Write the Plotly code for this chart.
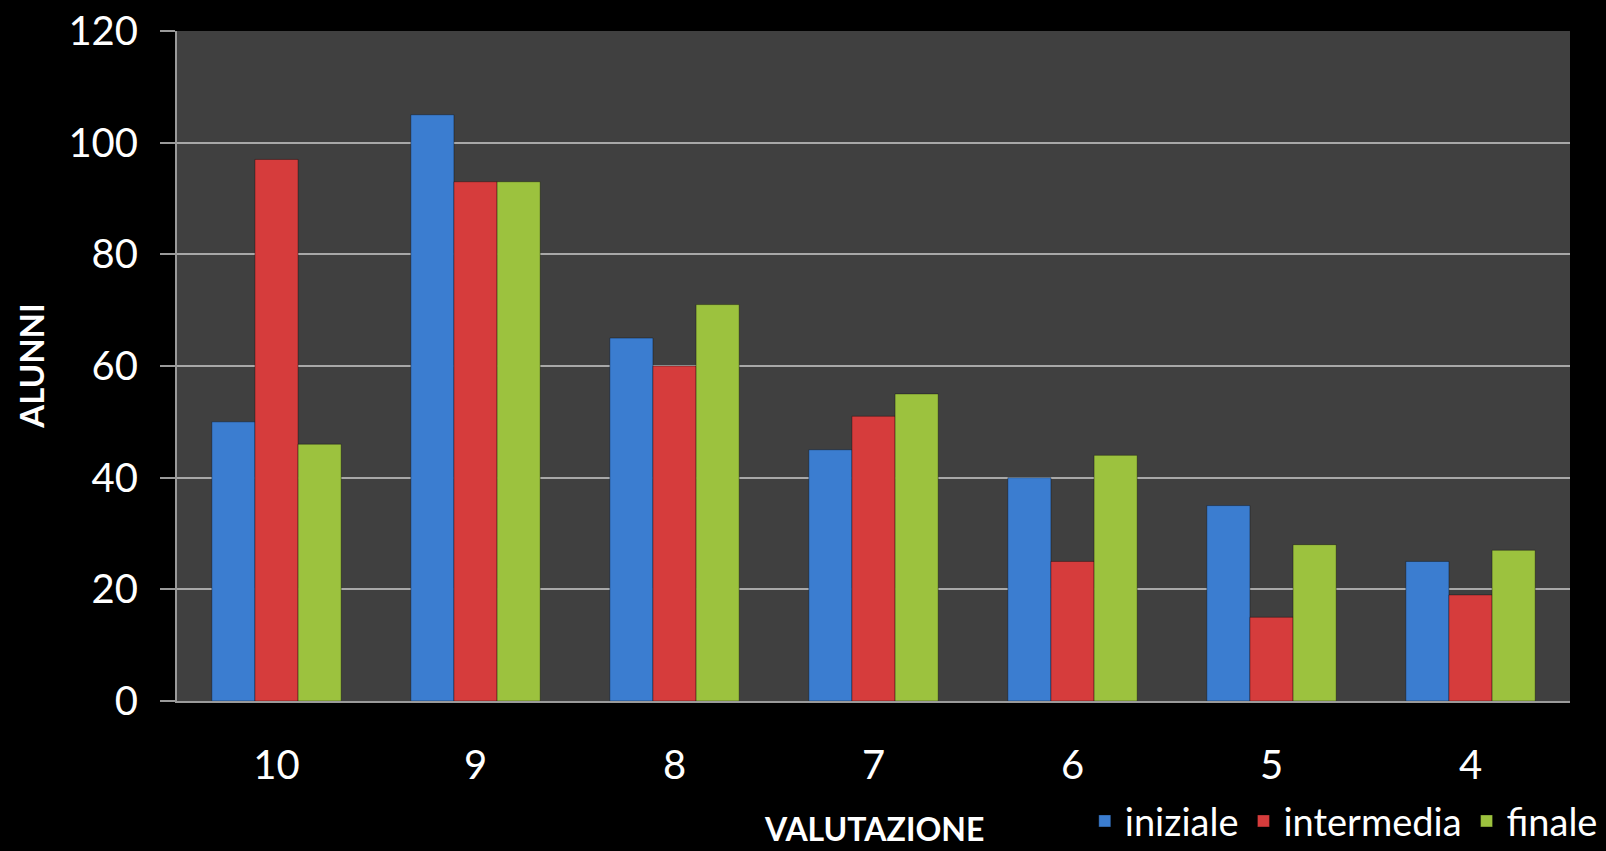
import plotly.graph_objects as go

# Data
valutazioni = ["10", "9", "8", "7", "6", "5", "4"]
iniziale = [50, 105, 65, 45, 40, 35, 25]
intermedia = [97, 93, 60, 51, 25, 15, 19]
finale = [46, 93, 71, 55, 44, 28, 27]

series = [
    ("iniziale", iniziale, "#3b7dd0"),
    ("intermedia", intermedia, "#d63c3c"),
    ("finale", finale, "#9cc23e"),
]

fig = go.Figure()
for name, vals, colour in series:
    fig.add_trace(go.Bar(
        x=valutazioni,
        y=vals,
        name=name,
        marker=dict(color=colour, line=dict(color="rgba(0,0,0,0.35)", width=1)),
    ))

fig.update_layout(
    barmode="group",
    bargap=0.35,
    bargroupgap=0,
    width=1606,
    height=851,
    paper_bgcolor="#000000",
    plot_bgcolor="#404040",
    font=dict(family="Lato, 'Open Sans', sans-serif", color="#ffffff"),
    margin=dict(l=177, r=36, t=31, b=150),
    xaxis=dict(
        type="category",
        automargin=False,
        tickfont=dict(size=40, color="#ffffff"),
        showgrid=False,
        showline=True,
        linecolor="#9a9a9a",
        linewidth=2,
        ticks="",
        ticklabelstandoff=28,
    ),
    yaxis=dict(
        range=[0, 120],
        dtick=20,
        automargin=False,
        tickfont=dict(size=40, color="#ffffff"),
        showgrid=True,
        gridcolor="#a8a8a8",
        gridwidth=2,
        showline=True,
        linecolor="#9a9a9a",
        linewidth=2,
        ticks="outside",
        ticklen=15,
        tickcolor="#9a9a9a",
        tickwidth=2,
        ticklabelstandoff=14,
        zeroline=False,
    ),
    legend=dict(
        orientation="h",
        xref="container",
        yref="container",
        x=0.998,
        xanchor="right",
        y=0.035,
        yanchor="middle",
        font=dict(size=38, color="#ffffff"),
        bgcolor="rgba(0,0,0,0)",
        itemwidth=30,
        traceorder="normal",
    ),
)

# axis titles as annotations so the fixed margins do not squeeze them
fig.add_annotation(
    text="<b>VALUTAZIONE</b>", xref="paper", yref="paper",
    x=0.50, y=-0.19, xanchor="center", yanchor="middle",
    showarrow=False, font=dict(size=32, color="#ffffff"),
)
fig.add_annotation(
    text="<b>ALUNNI</b>", xref="paper", yref="paper",
    x=-0.105, y=0.5, xanchor="center", yanchor="middle", textangle=-90,
    showarrow=False, font=dict(size=33, color="#ffffff"),
)

# page body margin would shift and crop the fixed-size figure
fig.write_html(
    "out.html",
    config={"displayModeBar": False},
    post_script="document.body.style.margin='0';document.body.style.overflow='hidden';",
)
